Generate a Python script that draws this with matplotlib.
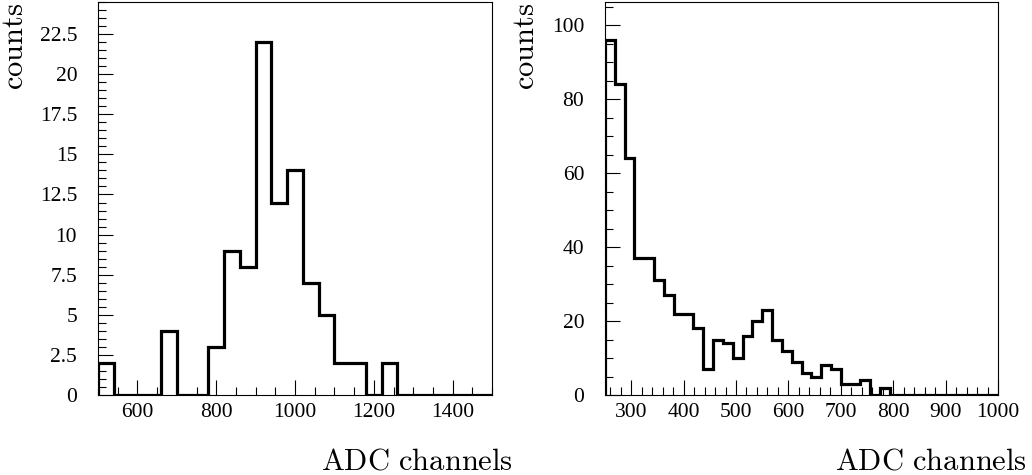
import numpy as np
import matplotlib
matplotlib.use("Agg")
import matplotlib.pyplot as plt
from matplotlib.ticker import MultipleLocator, FormatStrFormatter

# left histogram: 25 bins of 40 channels from 500 to 1500
left_range = (500, 1500)
left_nbins = 25
left_counts = [2, 0, 0, 0, 4, 0, 0, 3, 9, 8, 22, 12, 14, 7, 5, 2, 2, 0, 2,
               0, 0, 0, 0, 0, 0]

# right histogram: 40 bins from 250 to 1000
right_range = (250, 1000)
right_nbins = 40
right_counts = [96, 84, 64, 37, 37, 31, 27, 22, 22, 18, 7, 15, 14, 10, 16, 20,
                23, 15, 12, 9, 6, 5, 8, 7, 3, 3, 4, 0, 2, 0, 0, 0, 0, 0, 0, 0,
                0, 0, 0, 0]

plt.rcParams['mathtext.fontset'] = 'cm'
tick_font = 'Liberation Serif'

fig = plt.figure(figsize=(10.32, 4.75), dpi=100)
W, H = 1032, 475


def make_axes(x0, x1, y0, y1):
    return fig.add_axes([x0 / W, 1 - y1 / H, (x1 - x0) / W, (y1 - y0) / H])


def style(ax, xmaj, xmin, ymaj, ymin, yfmt):
    ax.xaxis.set_major_locator(MultipleLocator(xmaj))
    ax.xaxis.set_minor_locator(MultipleLocator(xmin))
    ax.yaxis.set_major_locator(MultipleLocator(ymaj))
    ax.yaxis.set_minor_locator(MultipleLocator(ymin))
    ax.yaxis.set_major_formatter(FormatStrFormatter(yfmt))
    ax.tick_params(which='both', direction='in', top=False, right=False,
                   width=0.8, colors='black')
    ax.tick_params(which='major', length=11)
    ax.tick_params(which='minor', length=5.5)
    ax.tick_params(axis='y', which='major', pad=15)
    ax.tick_params(axis='x', which='major', pad=6)
    for lab in ax.get_xticklabels() + ax.get_yticklabels():
        lab.set_fontfamily(tick_font)
        lab.set_fontsize(15.5)
    for s in ax.spines.values():
        s.set_linewidth(0.8)


# left panel
ax1 = make_axes(98, 492, 2, 395)
edges1 = np.linspace(left_range[0], left_range[1], left_nbins + 1)
ax1.stairs(left_counts, edges1, baseline=0, color='black', linewidth=2.3)
ax1.set_xlim(*left_range)
ax1.set_ylim(0, 24.5)
style(ax1, 200, 50, 2.5, 0.5, '%g')
ax1.yaxis.set_major_formatter(
    plt.FuncFormatter(lambda v, p: ('%g' % v)))

# right panel
ax2 = make_axes(605, 998, 2, 395)
edges2 = np.linspace(right_range[0], right_range[1], right_nbins + 1)
ax2.stairs(right_counts, edges2, baseline=0, color='black', linewidth=2.3)
ax2.set_xlim(*right_range)
ax2.set_ylim(0, 106.3)
style(ax2, 100, 20, 20, 5, '%d')

# axis titles
fig.text(513 / W, 1 - 469 / H, r'$\mathrm{ADC\ channels}$', fontsize=22,
         ha='right', va='baseline')
fig.text(1027 / W, 1 - 469 / H, r'$\mathrm{ADC\ channels}$', fontsize=22,
         ha='right', va='baseline')
fig.text(15 / W, 1 - 2.5 / H, r'$\mathrm{counts}$', fontsize=22,
         rotation=90, ha='center', va='top')
fig.text(525 / W, 1 - 2.5 / H, r'$\mathrm{counts}$', fontsize=22,
         rotation=90, ha='center', va='top')

fig.savefig('out.png', dpi=100)
